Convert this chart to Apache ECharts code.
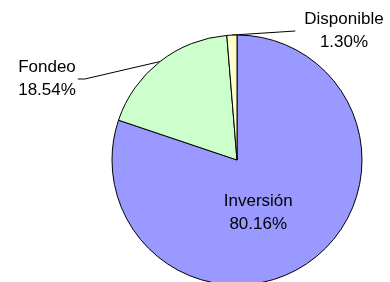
<!DOCTYPE html>
<html>
<head>
<meta charset="utf-8">
<script src="https://cdn.jsdelivr.net/npm/echarts@6/dist/echarts.min.js"></script>
<style>
  html, body { margin: 0; padding: 0; background: #fff; }
  #chart { width: 390px; height: 282px; }
</style>
</head>
<body>
<div id="chart"></div>
<script>
const categories = ['Inversión', 'Fondeo', 'Disponible']
const shares = [80.16, 18.54, 1.30]
const colors = ['#9999FF', '#CCFFCC', '#FFFFCC']

const chart = echarts.init(document.getElementById('chart'))

// where the two outside labels sit (text block centre)
const labelSpots = {
    1: { x: 47, y: 79, side: 'left' },
    2: { x: 344, y: 31, side: 'right' }
}

chart.setOption({
    backgroundColor: '#fff',
    animation: false,
    series: [
        {
            type: 'pie',
            center: [237, 160],
            radius: 125,
            startAngle: 90,
            clockwise: true,
            itemStyle: {
                borderColor: '#000',
                borderWidth: 1
            },
            label: {
                show: true,
                position: 'outside',
                fontFamily: 'Liberation Sans, Arial, sans-serif',
                fontSize: 17,
                lineHeight: 23,
                color: '#000',
                align: 'center',
                formatter: function (p) {
                    return p.name + '\n' + p.value.toFixed(2) + '%'
                }
            },
            labelLine: {
                show: true,
                lineStyle: { color: '#000', width: 1 }
            },
            labelLayout: function (params) {
                const spot = labelSpots[params.dataIndex]
                if (!spot) return {}
                const w = params.labelRect.width
                const start = params.labelLinePoints ? params.labelLinePoints[0] : null
                let end, mid
                if (spot.side === 'left') {
                    end = [spot.x + w / 2 + 2, spot.y]
                    mid = [end[0] + 7, spot.y]
                } else {
                    end = [spot.x - w / 2 - 9, spot.y]
                    mid = end
                }
                const out = {
                    x: spot.x,
                    y: spot.y,
                    align: 'center',
                    verticalAlign: 'middle'
                }
                if (start) out.labelLinePoints = [start, mid, end]
                return out
            },
            data: categories.map(function (name, i) {
                const item = {
                    name: name,
                    value: shares[i],
                    itemStyle: { color: colors[i] }
                }
                if (i === 0) {
                    item.label = { position: 'inside', offset: [-17, 0] }
                    item.labelLine = { show: false }
                }
                return item
            })
        }
    ]
})
</script>
</body>
</html>
